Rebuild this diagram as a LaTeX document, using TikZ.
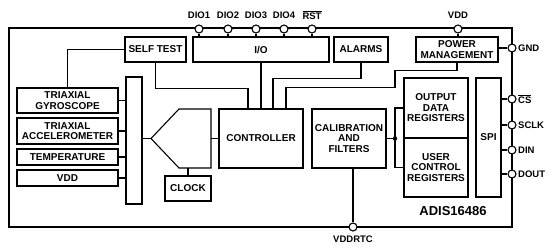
\documentclass[tikz,border=0pt]{standalone}
\usepackage{fontspec}
\setmainfont{Liberation Sans}
\begin{document}
\begin{tikzpicture}[x=1pt,y=-1pt,
  blk/.style={draw, line width=1.1pt, inner sep=0pt, align=center, font=\bfseries\fontsize{10}{10.5}\selectfont},
  wire/.style={line width=1.1pt},
  pin/.style={circle, draw, fill=white, line width=1.1pt, minimum size=8pt, inner sep=0pt},
  pinlbl/.style={font=\bfseries\fontsize{9.5}{10}\selectfont, inner sep=0pt},
  chip/.style={line width=1.6pt}]
\useasboundingbox (0,0) rectangle (554,250);
% outer package
\draw[chip] (9,28) rectangle (512,227);
% blocks
\node[blk, minimum width=61pt, minimum height=25pt] (selftest) at (155.5,49.5) {SELF TEST};
\node[blk, minimum width=136pt, minimum height=25pt] (io) at (261,49.5) {I/O};
\node[blk, minimum width=54pt, minimum height=25pt] (alarms) at (361,49.5) {ALARMS};
\node[blk, minimum width=82pt, minimum height=25pt] (pm) at (457,49.5) {POWER\\MANAGEMENT};
\node[blk, minimum width=101pt, minimum height=25pt] (gyro) at (67.5,100.5) {TRIAXIAL\\GYROSCOPE};
\node[blk, minimum width=101pt, minimum height=26pt] (accel) at (67.5,131) {TRIAXIAL\\ACCELEROMETER};
\node[blk, minimum width=101pt, minimum height=16pt] (temp) at (67.5,157) {TEMPERATURE};
\node[blk, minimum width=101pt, minimum height=16pt] (vdd) at (67.5,178) {VDD};
\node[blk, minimum width=16pt, minimum height=127pt] (bar) at (134,140.5) {};
\node[blk, minimum width=84pt, minimum height=59pt] (ctrl) at (261,138.5) {CONTROLLER};
\node[blk, minimum width=46pt, minimum height=25pt] (clock) at (188,188.5) {CLOCK};
\node[blk, minimum width=74pt, minimum height=59pt] (calib) at (349,138.5) {CALIBRATION\\AND\\FILTERS};
\node[blk, minimum width=64pt, minimum height=60pt] (odr) at (436,108) {OUTPUT\\DATA\\REGISTERS};
\node[blk, minimum width=64pt, minimum height=59pt] (ucr) at (436,167.5) {USER\\CONTROL\\REGISTERS};
\node[blk, minimum width=25pt, minimum height=119pt] (spi) at (488.5,137.5) {SPI};
% mux
\coordinate (mtip) at (151,138.5);
\coordinate (mtl) at (179,109);
\coordinate (mtr) at (211,109);
\coordinate (mbr) at (211,168);
\coordinate (mbl) at (179,168);
\draw[wire] (mtip) -- (mtl) -- (mtr) -- (mbr) -- (mbl) -- cycle;
% sensor wires
\draw[wire] (gyro.east) -- (gyro.east -| bar.west);
\draw[wire] (accel.east) -- (accel.east -| bar.west);
\draw[wire] (temp.east) -- (temp.east -| bar.west);
\draw[wire] (vdd.east) -- (vdd.east -| bar.west);
\draw[wire] (bar.east |- mtip) -- (mtip);
\draw[wire] (mtr |- ctrl.west) -- (ctrl.west);
\draw[wire] (clock.north |- mbl) -- (clock.north);
% control wires
\draw[wire] (selftest.west) -| (gyro.north);
\draw[wire] (selftest.south) -- ++(0,26) -| ([xshift=-13pt]ctrl.north);
\draw[wire] (io.south) -- (ctrl.north);
\draw[wire] (alarms.south) -- ++(0,16) -| ([xshift=12pt]ctrl.north);
\draw[wire] (pm.south) |- ++(-62,8) -- ++(0,17) -| ([xshift=25pt]ctrl.north);
% data path
\coordinate (dot) at (395,138.5);
\draw[wire] (calib.east) -- (dot);
\draw[wire] (odr.west) -| (dot) |- (ucr.west);
\fill (dot) circle (2.2pt);
% pins
\foreach \n/\x in {DIOa/199, DIOb/228, DIOc/256, DIOd/284, RST/312}{
  \node[pin] (p\n) at (\x,29) {};
}
\draw[wire] (pDIOa) -- (pDIOa |- io.north);
\draw[wire] (pDIOb) -- (pDIOb |- io.north);
\draw[wire] (pDIOc) -- (pDIOc |- io.north);
\draw[wire] (pDIOd) -- (pDIOd |- io.north);
\draw[wire] (pRST) -- (pRST |- io.north);
\node[pin] (pVDD) at (458,29) {};
\draw[wire] (pVDD) -- (pVDD |- pm.north);
\node[pin] (pGND) at (512,48) {};
\draw[wire] (pm.east |- pGND) -- (pGND);
\node[pin] (pCS) at (512,99) {};
\node[pin] (pSCLK) at (512,125) {};
\node[pin] (pDIN) at (512,150) {};
\node[pin] (pDOUT) at (512,174) {};
\foreach \p in {pCS,pSCLK,pDIN,pDOUT}{
  \draw[wire] (spi.east |- \p) -- (\p);
}
\node[pin] (pRTC) at (353,227) {};
\draw[wire] (pRTC |- calib.south) -- (pRTC);
% pin labels
\node[pinlbl] (lDIOa) at (199,15) {DIO1};
\node[pinlbl] (lDIOb) at (228,15) {DIO2};
\node[pinlbl] (lDIOc) at (256,15) {DIO3};
\node[pinlbl] (lDIOd) at (284,15) {DIO4};
\node[pinlbl] (lRST) at (312,15) {$\overline{\hbox{RST}}$};
\node[pinlbl] (lVDD) at (458,15) {VDD};
\node[pinlbl, anchor=west] (lGND) at (518,48) {GND};
\node[pinlbl, anchor=west] (lCS) at (518,99) {$\overline{\hbox{CS}}$};
\node[pinlbl, anchor=west] (lSCLK) at (518,125) {SCLK};
\node[pinlbl, anchor=west] (lDIN) at (518,150) {DIN};
\node[pinlbl, anchor=west] (lDOUT) at (518,174) {DOUT};
\node[pinlbl] (lRTC) at (353,239) {VDDRTC};
\node[font=\bfseries\fontsize{13}{14}\selectfont, inner sep=0pt] (part) at (453,211) {ADIS16486};
\end{tikzpicture}
\end{document}
